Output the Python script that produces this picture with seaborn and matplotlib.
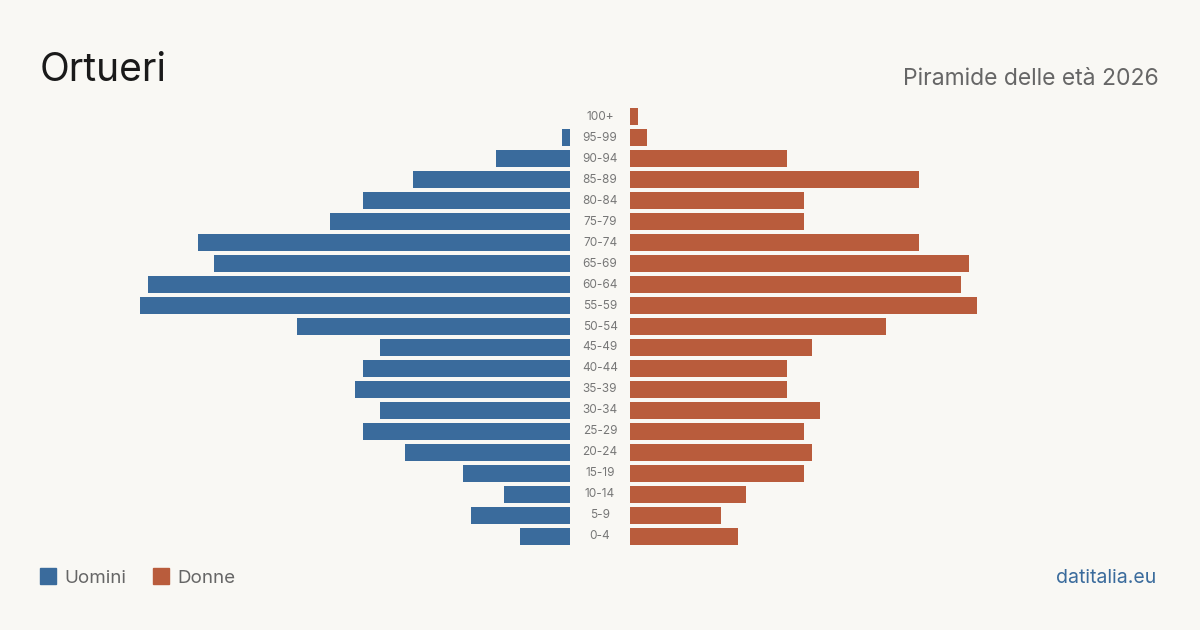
import matplotlib
matplotlib.use("Agg")
import matplotlib.pyplot as plt
import matplotlib.transforms as mtransforms
from matplotlib.patches import Rectangle
import pandas as pd
import seaborn as sns

# Data
ages = ["100+", "95-99", "90-94", "85-89", "80-84", "75-79", "70-74", "65-69",
        "60-64", "55-59", "50-54", "45-49", "40-44", "35-39", "30-34", "25-29",
        "20-24", "15-19", "10-14", "5-9", "0-4"]
men = [0, 1, 9, 19, 25, 29, 45, 43, 51, 52, 33, 23, 25, 26, 23, 25, 20, 13, 8, 12, 6]
women = [1, 2, 19, 35, 21, 21, 35, 41, 40, 42, 31, 22, 19, 19, 23, 21, 22, 21, 14, 11, 13]

df = pd.DataFrame({"age": ages, "Uomini": men, "Donne": women})

BG = "#f9f8f4"
BLUE = "#3a6b9c"
ORANGE = "#b95c3c"

sns.set_theme(style="white")
plt.rcParams["font.family"] = ["Inter", "DejaVu Sans"]

W, H = 1200, 630
fig = plt.figure(figsize=(12, 6.3), dpi=100, facecolor=BG)

xmax = max(max(men), max(women))
bottom = (H - 546.5) / H
height = 440 / H
ax_l = fig.add_axes([140 / W, bottom, 430 / W, height])
ax_r = fig.add_axes([630 / W, bottom, 430 / W, height])

sns.barplot(data=df, x="Uomini", y="age", order=ages, color=BLUE,
            saturation=1, width=0.81, linewidth=0, ax=ax_l)
sns.barplot(data=df, x="Donne", y="age", order=ages, color=ORANGE,
            saturation=1, width=0.81, linewidth=0, ax=ax_r)

ax_l.set_xlim(xmax, 0)
ax_r.set_xlim(0, xmax)
for ax in (ax_l, ax_r):
    ax.set_facecolor("none")
    ax.set_axis_off()
    ax.set_ylim(len(ages) - 0.5, -0.5)

# age labels in the centre gap
trans = mtransforms.blended_transform_factory(fig.transFigure, ax_r.transData)
for i, a in enumerate(ages):
    fig.text(600 / W, i, a, transform=trans, ha="center", va="center",
             fontsize=8.5, color="#777777")

# titles
fig.text(40 / W, 1 - 81 / H, "Ortueri", fontsize=28, color="#1a1a1a",
         ha="left", va="baseline")
fig.text(1159 / W, 1 - 85 / H, "Piramide delle età 2026", fontsize=16.5,
         color="#666666", ha="right", va="baseline")

# legend
for x0, label, col in [(40, "Uomini", BLUE), (153, "Donne", ORANGE)]:
    fig.patches.append(Rectangle((x0 / W, 1 - 584 / H), 16 / W, 16 / H,
                                 transform=fig.transFigure, color=col))
    fig.text((x0 + 24) / W, 1 - 583 / H, label, fontsize=13.5,
             color="#666666", ha="left", va="baseline")

fig.text(1156 / W, 1 - 583 / H, "datitalia.eu", fontsize=14, color=BLUE,
         ha="right", va="baseline")

fig.savefig("out.png", dpi=100, facecolor=BG)
